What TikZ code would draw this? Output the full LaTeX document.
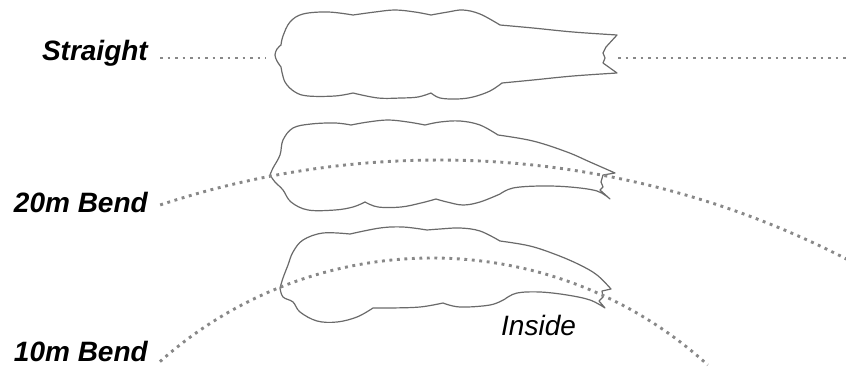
\documentclass[tikz,border=0pt]{standalone}
\usepackage{fontspec}
\setmainfont{Liberation Sans}
\definecolor{fishgray}{HTML}{6A6A6A}
\definecolor{dotgray}{HTML}{888888}
\tikzset{
  fishline/.style={draw=fishgray, line width=1.2pt, fill=white, line join=round},
  dotline/.style={draw=dotgray, line width=2.9pt, dash pattern=on 2.9pt off 4.6pt},
  biglabel/.style={inner sep=0pt, font=\fontsize{28}{32}\selectfont\bfseries\itshape},
  smalllabel/.style={inner sep=0pt, font=\fontsize{28}{32}\selectfont\itshape},
  sm/.style={smooth, tension=0.6}
}
\begin{document}
\begin{tikzpicture}[x=1pt,y=-1pt]
\useasboundingbox (0,0) rectangle (846,367);
\clip (0,0) rectangle (846,367);

% ---------- labels ----------
\node[biglabel, anchor=base east] (lblS) at (148,60) {Straight};
\node[biglabel, anchor=base east] (lbl20) at (148,212) {20m Bend};
\node[biglabel, anchor=base east] (lbl10) at (148,361) {10m Bend};
\node[smalllabel, anchor=base west] (lblIn) at (501,335) {Inside};

% ---------- straight track ----------
\coordinate (sA) at (160,58);
\coordinate (sB) at (266,58);
\coordinate (sC) at (618,58);
\coordinate (sD) at (850,58);
\draw[dotline] (sA) -- (sB);
\draw[dotline] (sC) -- (sD);

% ---------- straight fish ----------
\path[fishline]
  plot[sm] coordinates {(281,67) (277,61) (275,55) (277,49) (281,45)}
  -- plot[sm] coordinates {(281,45) (283,36) (290,22) (303,14) (328,12) (353,15)}
  -- plot[sm] coordinates {(353,15) (375,12) (395,10) (415,12) (431,15)}
  -- plot[sm] coordinates {(431,15) (448,12) (463,10) (480,14) (500,25)}
  -- plot[sm] coordinates {(500,25) (533,28) (573,32) (617,35)}
  -- (606,47) -- (603,53) -- (605,58) -- (603,63) -- (617,73)
  -- plot[sm] coordinates {(617,73) (573,76) (533,80) (502,83)}
  -- plot[sm] coordinates {(502,83) (490,91) (473,97) (457,99) (440,98) (431,93)}
  -- plot[sm] coordinates {(431,93) (418,97) (401,98) (378,98) (353,93)}
  -- plot[sm] coordinates {(353,93) (335,96) (308,96) (295,92) (285,82) (281,67)}
  -- cycle;

% ---------- 20m fish ----------
\path[fishline]
  plot[sm] coordinates {(270,175) (273,168) (280,155) (283,140) (293,128) (311,124) (335,123) (351,125)}
  -- plot[sm] coordinates {(351,125) (368,122) (388,120) (408,122) (425,125)}
  -- plot[sm] coordinates {(425,125) (440,122) (460,121) (480,125) (498,135)}
  -- plot[sm] coordinates {(498,135) (533,141) (567,152) (590,162) (615,173)}
  -- (603,175) -- (601,182) -- (603,187) -- (600,190) -- (610,199)
  -- plot[sm] coordinates {(610,199) (597,191) (570,187) (540,186) (513,188) (500,194)}
  -- plot[sm] coordinates {(500,194) (480,202) (463,205) (447,202) (436,199)}
  -- plot[sm] coordinates {(436,199) (421,203) (401,207) (378,207) (365,202)}
  -- plot[sm] coordinates {(365,202) (353,207) (335,210) (308,210) (291,202) (283,190) (275,182) (270,175)}
  -- cycle;

% ---------- 10m fish ----------
\path[fishline]
  plot[sm] coordinates {(280,288) (283,278) (288,265) (293,252) (303,240) (323,233) (350,234)}
  -- plot[sm] coordinates {(350,234) (380,228) (403,227) (427,230)}
  -- plot[sm] coordinates {(427,230) (440,229) (460,228) (480,231) (500,241)}
  -- plot[sm] coordinates {(500,241) (530,246) (557,255) (580,265) (597,275) (611,289)}
  -- (602,291) -- (603,297) -- (599,301) -- (605,308)
  -- plot[sm] coordinates {(605,308) (590,300) (567,295) (540,292) (517,293) (505,299)}
  -- plot[sm] coordinates {(505,299) (490,305) (460,307) (443,303)}
  -- plot[sm] coordinates {(443,303) (420,307) (390,308) (373,308)}
  -- plot[sm] coordinates {(373,308) (357,317) (337,322) (317,321) (300,312) (293,302) (283,297) (280,288)}
  -- cycle;

% ---------- bend tracks ----------
\draw[dotline] plot[domain=108.3:58, samples=150, variable=\t] ({439+888*cos(\t)},{1048-888*sin(\t)});
\draw[dotline] plot[domain=131.7:47.6, samples=150, variable=\t] ({432+409*cos(\t)},{667-409*sin(\t)});
\end{tikzpicture}
\end{document}
